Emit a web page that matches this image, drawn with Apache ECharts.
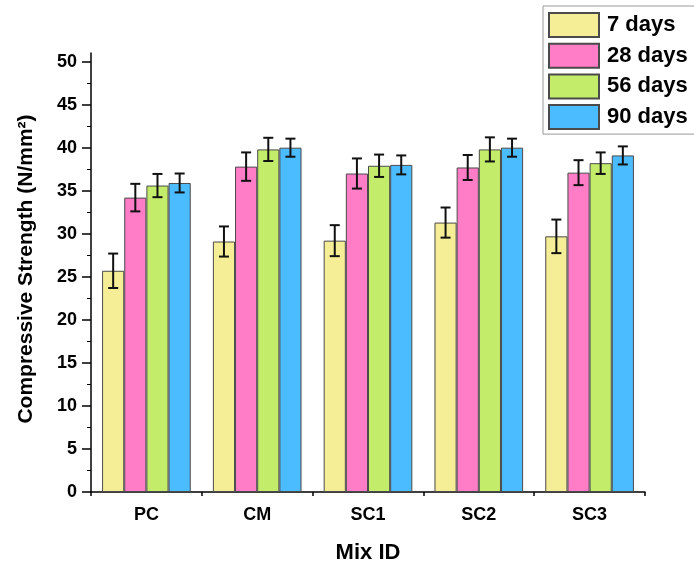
<!DOCTYPE html>
<html>
<head>
<meta charset="utf-8">
<script src="https://cdn.jsdelivr.net/npm/echarts@6/dist/echarts.min.js"></script>
<style>
  html, body { margin: 0; padding: 0; background: #fff; }
  #chart { width: 694px; height: 569px; }
</style>
</head>
<body>
<div id="chart"></div>
<script>
// Mix designs and compressive strength by curing age (N/mm²)
const categories = ['PC', 'CM', 'SC1', 'SC2', 'SC3'];
const ageNames = ['7 days', '28 days', '56 days', '90 days'];
const days7 = [25.7, 29.1, 29.2, 31.3, 29.7];
const days28 = [34.2, 37.8, 37.0, 37.7, 37.1];
const days56 = [35.6, 39.8, 37.9, 39.8, 38.2];
const days90 = [35.9, 40.0, 38.0, 40.0, 39.1];
// standard deviations
const err7 = [2.0, 1.75, 1.8, 1.75, 1.95];
const err28 = [1.6, 1.65, 1.75, 1.45, 1.45];
const err56 = [1.35, 1.35, 1.3, 1.4, 1.25];
const err90 = [1.1, 1.05, 1.1, 1.05, 1.05];
const yTicks = [0, 5, 10, 15, 20, 25, 30, 35, 40, 45, 50];

const means = [days7, days28, days56, days90];
const errs = [err7, err28, err56, err90];
const colors = ['#F5EE96', '#FF7DC6', '#C3EC6A', '#4BBCFF'];
const font = 'Arial, "Liberation Sans", sans-serif';
const GAP = 0.2; // barCategoryGap as fraction

const chart = echarts.init(document.getElementById('chart'));

const barSeries = means.map((vals, i) => ({
  name: ageNames[i],
  type: 'bar',
  data: vals,
  barGap: '0%',
  barCategoryGap: '20%',
  itemStyle: { color: colors[i], borderColor: '#4a4a4a', borderWidth: 1 },
  z: 2
}));

const errorSeries = means.map((vals, i) => ({
  type: 'custom',
  name: 'err' + i,
  data: vals.map((v, k) => [k, v - errs[i][k], v + errs[i][k]]),
  encode: { x: 0, y: [1, 2] },
  z: 5,
  silent: true,
  renderItem: function (params, api) {
    const k = api.value(0);
    const lo = api.coord([k, api.value(1)]);
    const hi = api.coord([k, api.value(2)]);
    const band = api.size([1, 0])[0];
    const group = band * (1 - GAP);
    const bw = group / 4;
    const x = lo[0] - group / 2 + bw * (i + 0.5);
    const cap = 5;
    const style = { stroke: '#111', lineWidth: 2, fill: null };
    return {
      type: 'group',
      children: [
        { type: 'line', shape: { x1: x, y1: lo[1], x2: x, y2: hi[1] }, style },
        { type: 'line', shape: { x1: x - cap, y1: lo[1], x2: x + cap, y2: lo[1] }, style },
        { type: 'line', shape: { x1: x - cap, y1: hi[1], x2: x + cap, y2: hi[1] }, style }
      ]
    };
  }
}));

chart.setOption({
  animation: false,
  backgroundColor: '#fff',
  grid: { left: 91, right: 49, top: 53, bottom: 75, containLabel: false },
  legend: {
    data: ageNames,
    orient: 'vertical',
    left: 543,
    top: 6,
    padding: [6, 30, 4, 5],
    itemGap: 4.7,
    itemWidth: 50,
    itemHeight: 24,
    borderColor: '#999',
    borderWidth: 1,
    backgroundColor: '#fff',
    textStyle: { fontFamily: font, fontWeight: 'bold', fontSize: 22, lineHeight: 24, color: '#000', padding: [0, 0, 0, 3] },
    icon: 'rect'
  },
  graphic: [{
    type: 'text',
    x: 26,
    y: 269,
    rotation: Math.PI / 2,
    style: {
      text: 'Compressive Strength (N/mm²)',
      font: 'bold 21px ' + font,
      fill: '#000',
      align: 'center',
      verticalAlign: 'middle'
    }
  }],
  xAxis: [
    {
      type: 'category',
      data: categories,
      axisLine: { lineStyle: { color: '#000', width: 1.5 } },
      axisTick: { alignWithLabel: true, length: 8, lineStyle: { color: '#000', width: 1.5 } },
      axisLabel: { fontFamily: font, fontWeight: 'bold', fontSize: 18, color: '#000', margin: 14 },
      name: 'Mix ID',
      nameLocation: 'middle',
      nameGap: 50,
      nameTextStyle: { fontFamily: font, fontWeight: 'bold', fontSize: 22, color: '#000' }
    },
    {
      // minor ticks at category boundaries
      type: 'category',
      data: categories,
      position: 'bottom',
      axisLine: { show: false },
      axisTick: { show: true, length: 4, lineStyle: { color: '#000', width: 1.5 } },
      axisLabel: { show: false }
    }
  ],
  yAxis: {
    type: 'value',
    min: 0,
    max: 51,
    interval: 5,
    axisLine: { show: true, lineStyle: { color: '#000', width: 1.5 } },
    axisTick: { show: true, length: 9, customValues: yTicks, lineStyle: { color: '#000', width: 1.5 } },
    minorTick: { show: true, splitNumber: 2, length: 4, lineStyle: { color: '#000', width: 1 } },
    splitLine: { show: false },
    axisLabel: {
      customValues: yTicks,
      fontFamily: font, fontWeight: 'bold', fontSize: 18, color: '#000', margin: 14
    }
  },
  series: [...barSeries, ...errorSeries]
});
</script>
</body>
</html>
